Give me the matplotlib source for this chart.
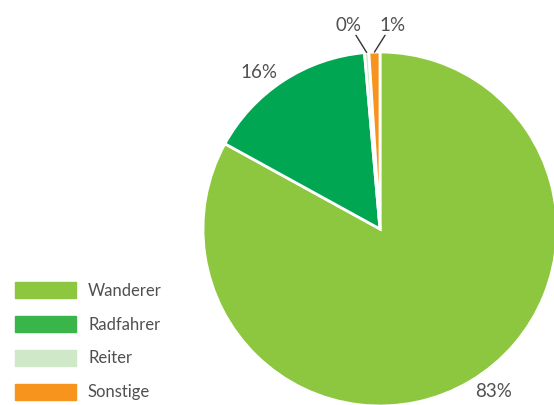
import numpy as np
import matplotlib.pyplot as plt

# Daten
kategorien = ['Wanderer', 'Radfahrer', 'Reiter', 'Sonstige']
anteile = [83.0, 15.6, 0.4, 1.0]
beschriftung = ['83%', '16%', '0%', '1%']
farben = ['#8DC63F', '#00A651', '#CFE8C8', '#F7941D']
legenden_farben = ['#8DC63F', '#39B54A', '#CFE8C8', '#F7941D']

plt.rcParams['font.family'] = ['Lato', 'DejaVu Sans']
textfarbe = '#505050'

B, H = 554, 406
fig = plt.figure(figsize=(B / 100, H / 100), dpi=100)
ax = fig.add_axes([0, 0, 1, 1])

wedges, _ = ax.pie(anteile, colors=farben, startangle=90, counterclock=False,
                   wedgeprops=dict(edgecolor='white', linewidth=2))

# Kreis: Mitte bei Pixel (380, 230), Radius 177 px
r_px, cx, cy = 177, 380, 230
ax.set_xlim(-cx / r_px, (B - cx) / r_px)
ax.set_ylim(-(H - cy) / r_px, cy / r_px)
ax.set_aspect('equal')
ax.axis('off')

# Prozentangaben
for i, w in enumerate(wedges):
    mitte = np.deg2rad((w.theta1 + w.theta2) / 2)
    if anteile[i] > 5:
        d = 1.06
        ausr = 'left' if np.cos(mitte) > 0 else 'right'
        ax.text(d * np.cos(mitte), d * np.sin(mitte), beschriftung[i],
                ha=ausr, va='center', fontsize=13.5, color=textfarbe)
    else:
        versatz = -0.1 if i == 2 else 0.1
        tx = np.cos(mitte) + versatz
        ax.annotate(beschriftung[i], xy=(np.cos(mitte), np.sin(mitte)),
                    xytext=(tx, 1.11), ha='center', va='bottom',
                    fontsize=13.5, color=textfarbe,
                    arrowprops=dict(arrowstyle='-', color='#333333', lw=1,
                                    shrinkA=0, shrinkB=0))

# Legende
for i, name in enumerate(kategorien):
    y = 1 - (290.5 + 34 * i) / H
    fig.patches.append(plt.Rectangle((15 / B, y - 8 / H), 61 / B, 16 / H,
                                     transform=fig.transFigure,
                                     color=legenden_farben[i]))
    fig.text(88 / B, y, name, ha='left', va='center', fontsize=12,
             color=textfarbe)

fig.savefig('out.png', dpi=100)
